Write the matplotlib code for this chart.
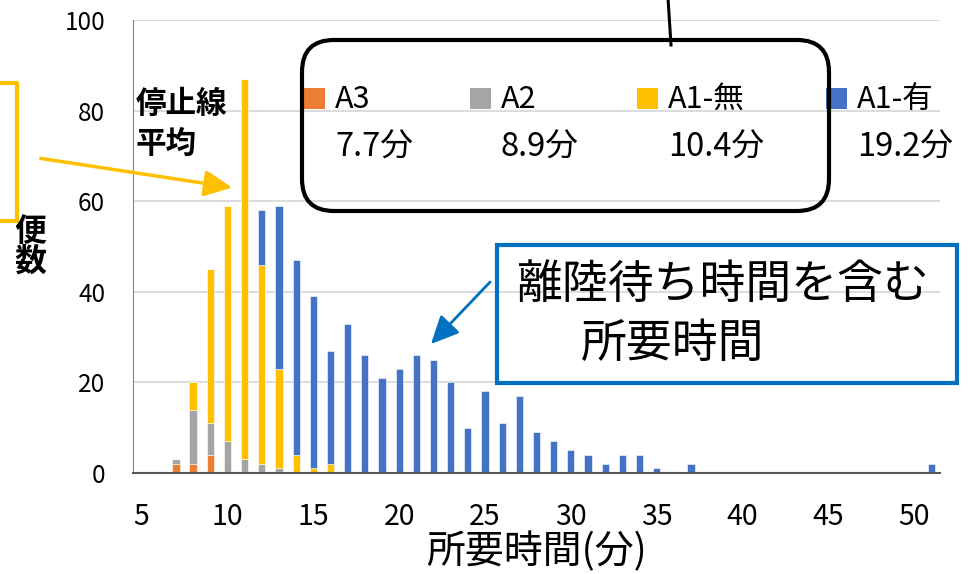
import matplotlib.pyplot as plt
import numpy as np
from matplotlib.patches import FancyBboxPatch, Rectangle, FancyArrowPatch
from matplotlib.lines import Line2D
from matplotlib.transforms import IdentityTransform

plt.rcParams['font.family'] = ['Noto Sans CJK JP', 'DejaVu Sans']

# minutes on the category axis and flight counts per stop-line class
minutes = np.arange(5, 52)
series_names = ['A3', 'A2', 'A1-無', 'A1-有']
series_means = [7.7, 8.9, 10.4, 19.2]
series_colors = ['#ED7D31', '#A5A5A5', '#FFC000', '#4472C4']

a3_counts = {7: 2, 8: 2, 9: 4}
a2_counts = {7: 1, 8: 12, 9: 7, 10: 7, 11: 3, 12: 2, 13: 1}
a1_nashi_counts = {8: 6, 9: 34, 10: 52, 11: 84, 12: 44, 13: 22, 14: 4, 15: 1, 16: 2}
a1_ari_counts = {12: 12, 13: 36, 14: 43, 15: 38, 16: 25, 17: 33, 18: 26, 19: 21,
                 20: 23, 21: 26, 22: 25, 23: 20, 24: 10, 25: 18, 26: 11, 27: 17,
                 28: 9, 29: 7, 30: 5, 31: 4, 32: 2, 33: 4, 34: 4, 35: 1, 37: 2, 51: 2}

y_ticks = [0, 20, 40, 60, 80, 100]
x_ticks = [5, 10, 15, 20, 25, 30, 35, 40, 45, 50]

W, H = 980, 574
fig = plt.figure(figsize=(W / 100, H / 100), dpi=100)
fig.patch.set_facecolor('white')
ax = fig.add_axes([133 / W, 1 - 473 / H, (940 - 133) / W, (473 - 20) / H])

bottom = np.zeros(len(minutes))
for counts, color in zip([a3_counts, a2_counts, a1_nashi_counts, a1_ari_counts], series_colors):
    vals = np.array([counts.get(m, 0) for m in minutes])
    ax.bar(minutes, vals, width=0.42, bottom=bottom, color=color,
           edgecolor='white', linewidth=0.4)
    bottom += vals

ax.set_xlim(4.5, 51.5)
ax.set_ylim(0, 100)
ax.set_yticks(y_ticks)
ax.set_xticks(x_ticks)
ax.grid(axis='y', color='#D9D9D9', linewidth=1.3)
ax.set_axisbelow(True)
for s in ['top', 'right']:
    ax.spines[s].set_visible(False)
ax.spines['left'].set_color('#808080')
ax.spines['left'].set_linewidth(0.8)
ax.spines['bottom'].set_color('#595959')
ax.spines['bottom'].set_linewidth(1.5)
ax.tick_params(axis='y', length=0, pad=20, labelsize=17.5)
ax.tick_params(axis='x', length=0, pad=21, labelsize=20.5)
ax.set_xlabel('所要時間(分)', fontsize=28, labelpad=0)

px = IdentityTransform()


def fig_text(x, y, s, **kw):
    # x, y in image pixels measured from the top-left corner
    fig.text(x, H - y, s, transform=px, **kw)


# y-axis title, stacked characters
fig_text(30, 232, '便', fontsize=23, fontweight='bold', ha='center', va='center')
fig_text(30, 262, '数', fontsize=23, fontweight='bold', ha='center', va='center')

# stop-line average legend block
fig_text(136, 104, '停止線', fontsize=22, fontweight='bold', ha='left', va='center')
fig_text(136, 144, '平均', fontsize=22, fontweight='bold', ha='left', va='center')

square_x = [304, 470, 637, 826]
for sx, name, mean, color in zip(square_x, series_names, series_means, series_colors):
    fig.add_artist(Rectangle((sx, H - 109), 21, 21, facecolor=color,
                             edgecolor='none', transform=px))
    fig_text(sx + 31, 99, name, fontsize=22, ha='left', va='center')
    fig_text(sx + 31, 148, f'{mean}分', fontsize=23.5, ha='left', va='center')

fig.add_artist(FancyBboxPatch((302, H - 211), 527, 171,
                              boxstyle='round,pad=0,rounding_size=32',
                              facecolor='none', edgecolor='black', linewidth=3,
                              transform=px))
fig.add_artist(Line2D([668, 671], [H + 2, H - 45], color='black', linewidth=2.2,
                      transform=px))

# callout for the total time including take-off waiting
fig.add_artist(Rectangle((497, H - 383), 460, 138, facecolor='none',
                         edgecolor='#0070C0', linewidth=3, transform=px))
fig_text(516, 285, '離陸待ち時間を含む', fontsize=33, ha='left', va='center')
fig_text(581, 344, '所要時間', fontsize=33, ha='left', va='center')
fig.add_artist(FancyArrowPatch((492, H - 280), (429, H - 346),
                               arrowstyle='-|>,head_length=1.7,head_width=0.8',
                               mutation_scale=10, color='#0070C0', linewidth=2,
                               transform=px))

# pointer to the stop-line mean block
fig.add_artist(Line2D([-5, 17, 17, -5], [H - 83, H - 83, H - 221, H - 221],
                      color='#FFC000', linewidth=3, transform=px))
fig.add_artist(FancyArrowPatch((38, H - 158), (235, H - 188),
                               arrowstyle='-|>,head_length=1.7,head_width=0.8',
                               mutation_scale=10, color='#FFC000', linewidth=2.5,
                               transform=px))

fig.savefig('out.png', dpi=100)
